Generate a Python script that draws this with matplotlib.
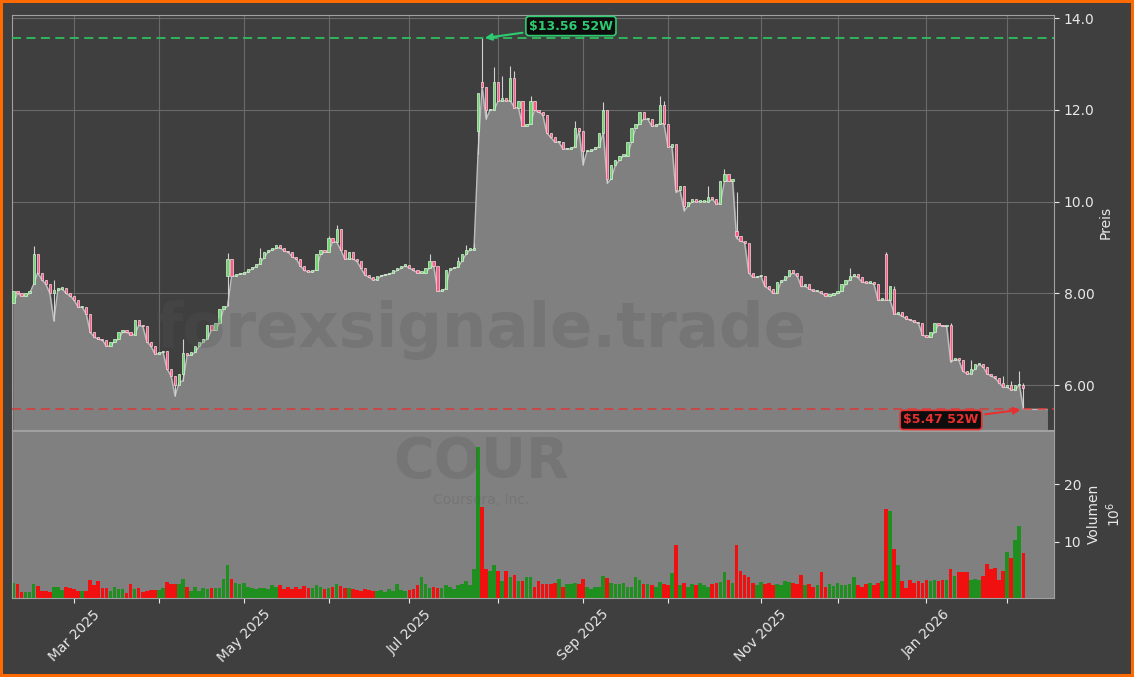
import numpy as np
import pandas as pd
import matplotlib
matplotlib.use("Agg")
import matplotlib.pyplot as plt

plt.rcParams['font.family'] = ['DejaVu Sans']

# trading calendar (NYSE holidays inside the window)
start_day = "2025-02-07"
holidays = ["2025-02-17", "2025-04-18", "2025-05-26", "2025-06-19", "2025-07-04",
            "2025-09-01", "2025-11-27", "2025-12-25", "2026-01-01", "2026-01-19"]

close = [
    8.05, 8.00, 7.95, 8.00, 8.05, 8.85, 8.45, 8.30, 8.20, 8.00,
    8.08, 8.10, 8.12, 8.00, 7.95, 7.85, 7.70, 7.70, 7.55, 7.15,
    7.05, 7.00, 6.98, 6.85, 6.95, 7.00, 7.15, 7.20, 7.15, 7.10,
    7.42, 7.30, 7.28, 6.95, 6.85, 6.68, 6.72, 6.75, 6.35, 6.20,
    6.00, 6.25, 6.70, 6.65, 6.72, 6.85, 6.95, 7.00, 7.30, 7.20,
    7.35, 7.66, 7.72, 8.75, 8.38, 8.42, 8.43, 8.47, 8.53, 8.58,
    8.65, 8.78, 8.90, 8.95, 8.98, 9.05, 9.00, 8.92, 8.90, 8.80,
    8.75, 8.60, 8.50, 8.47, 8.52, 8.85, 8.95, 8.90, 9.20, 9.12,
    9.40, 8.95, 8.75, 8.90, 8.75, 8.70, 8.55, 8.40, 8.35, 8.30,
    8.38, 8.40, 8.42, 8.45, 8.50, 8.55, 8.60, 8.62, 8.55, 8.50,
    8.45, 8.45, 8.55, 8.70, 8.60, 8.05, 8.10, 8.50, 8.55, 8.57,
    8.70, 8.85, 8.95, 8.95, 9.00, 12.38, 12.50, 12.00, 12.00, 12.60,
    12.20, 12.25, 12.20, 12.70, 12.05, 12.20, 11.65, 11.70, 12.20, 12.00,
    11.95, 11.90, 11.50, 11.40, 11.30, 11.30, 11.15, 11.15, 11.20, 11.60,
    11.55, 11.10, 11.10, 11.15, 11.20, 11.50, 12.00, 10.50, 10.80, 10.90,
    11.00, 11.00, 11.30, 11.60, 11.70, 11.95, 11.80, 11.80, 11.65, 11.70,
    12.10, 11.70, 11.20, 11.25, 10.25, 10.35, 9.90, 10.00, 10.05, 10.00,
    10.00, 10.00, 10.10, 10.05, 9.95, 10.45, 10.60, 10.45, 10.50, 9.25,
    9.15, 9.10, 8.45, 8.35, 8.38, 8.38, 8.15, 8.10, 8.00, 8.25,
    8.30, 8.38, 8.50, 8.45, 8.38, 8.15, 8.20, 8.10, 8.05, 8.05,
    8.00, 7.95, 7.97, 8.00, 8.05, 8.20, 8.30, 8.38, 8.42, 8.35,
    8.25, 8.23, 8.25, 8.20, 7.85, 7.90, 7.85, 8.15, 7.55, 7.60,
    7.50, 7.45, 7.42, 7.38, 7.35, 7.10, 7.05, 7.15, 7.35, 7.32,
    7.28, 7.28, 6.55, 6.60, 6.55, 6.30, 6.25, 6.35, 6.45, 6.45,
    6.40, 6.25, 6.20, 6.15, 6.05, 5.95, 6.00, 5.90, 6.00, 6.00,
    5.93,
]

# volume in millions of shares
volume = [
    2.9, 2.7, 1.2, 1.2, 1.2, 2.7, 2.3, 1.5, 1.5, 1.2,
    2.1, 2.1, 1.6, 2.2, 1.9, 1.7, 1.5, 1.5, 1.5, 3.3,
    2.5, 3.1, 1.9, 1.9, 1.5, 2.1, 1.8, 1.8, 1.1, 2.7,
    1.8, 1.9, 1.3, 1.5, 1.6, 1.6, 1.6, 1.9, 3.0, 2.7,
    2.7, 2.7, 3.5, 2.2, 1.5, 2.2, 1.5, 2.0, 1.7, 2.0,
    2.0, 1.9, 3.6, 5.9, 3.6, 2.8, 2.7, 2.8, 2.2, 2.0,
    1.8, 2.0, 1.9, 1.8, 2.4, 2.2, 2.4, 1.8, 2.2, 1.8,
    2.2, 1.8, 2.3, 1.9, 2.0, 2.4, 2.1, 1.8, 2.0, 2.2,
    2.6, 2.3, 1.9, 2.0, 1.7, 1.6, 1.5, 1.8, 1.6, 1.4,
    1.5, 1.6, 1.3, 1.7, 1.5, 2.6, 1.6, 1.5, 1.6, 1.8,
    2.4, 3.9, 2.6, 2.0, 2.2, 2.0, 1.9, 2.5, 2.1, 1.8,
    2.4, 2.6, 3.1, 2.4, 5.2, 26.5, 16.0, 5.3, 5.0, 5.9,
    4.9, 3.2, 4.9, 3.9, 4.2, 3.2, 3.2, 3.9, 3.9, 2.2,
    3.2, 2.6, 2.6, 2.6, 2.9, 3.5, 2.2, 2.6, 2.6, 2.9,
    2.6, 3.5, 2.1, 1.7, 2.1, 2.1, 4.1, 3.7, 2.9, 2.7,
    2.7, 2.9, 2.2, 2.2, 3.8, 3.4, 2.7, 2.7, 2.5, 2.2,
    3.0, 2.6, 2.4, 4.5, 9.5, 2.4, 2.8, 2.2, 2.6, 2.4,
    2.8, 2.5, 2.2, 2.6, 2.8, 3.0, 4.8, 3.3, 2.8, 9.5,
    5.0, 4.3, 3.8, 2.8, 2.5, 3.0, 2.6, 2.8, 2.4, 2.6,
    2.5, 3.2, 3.0, 2.9, 2.6, 4.3, 2.5, 2.7, 2.2, 2.4,
    4.8, 2.2, 2.6, 2.3, 2.8, 2.4, 2.5, 2.6, 3.8, 2.4,
    2.2, 2.6, 2.9, 2.4, 2.8, 3.2, 15.7, 15.3, 8.8, 5.9,
    3.1, 1.9, 3.4, 2.8, 3.1, 2.8, 3.3, 3.1, 3.4, 3.1,
    3.4, 3.3, 5.2, 4.0, 4.8, 4.8, 4.7, 3.3, 3.6, 3.3,
    4.0, 6.2, 5.3, 5.4, 3.4, 4.9, 8.3, 7.2, 10.3, 12.8,
    8.1,
]

# opens that gap away from the previous close (index: open)
open_gaps = {0: 7.80, 5: 8.20, 53: 8.38, 115: 11.55, 116: 12.60,
             179: 9.35, 216: 8.85, 218: 8.10, 232: 7.30}
# visible upper wicks (index: high)
high_marks = {5: 9.04, 10: 8.30, 42: 7.00, 53: 8.87, 61: 9.00, 78: 9.25, 80: 9.50,
              103: 8.85, 110: 8.80, 112: 9.05, 114: 9.10, 116: 13.56, 119: 12.93,
              121: 12.75, 123: 12.96, 124: 12.85, 128: 12.30, 139: 11.75, 146: 12.18,
              160: 12.30, 161: 12.20, 164: 11.10, 172: 10.35, 176: 10.72, 179: 10.20,
              182: 9.05, 207: 8.55, 216: 8.90, 218: 8.15, 232: 7.35, 237: 6.55,
              245: 6.20, 247: 6.10, 249: 6.30, 250: 6.05}
# lows below the candle bodies (index: low)
low_marks = {10: 7.40, 40: 5.76, 41: 6.05, 42: 6.10, 53: 7.72, 115: 11.05, 117: 11.80,
             141: 10.80, 147: 10.40, 164: 10.20, 166: 9.80, 179: 9.20, 232: 6.50,
             250: 5.47}

max_52w = 13.56
min_52w = 5.47
price_ticks = [6, 8, 10, 12, 14]
price_ticklabels = ['6.00', '8.00', '10.0', '12.0', '14.0']
vol_ticks = [10, 20]

# ---- build OHLC ----
n = len(close)
dates = pd.bdate_range(start_day, periods=n, freq="C", holidays=holidays)
x = np.arange(n)
opn = [open_gaps.get(0)] + close[:-1]
for k, v in open_gaps.items():
    opn[k] = v
opn = np.array(opn)
cls = np.array(close)
high = np.maximum(opn, cls)
low = np.minimum(opn, cls)
for k, v in high_marks.items():
    high[k] = v
for k, v in low_marks.items():
    low[k] = v
up = cls >= opn

bg = '#3f3f3f'
txt = '#e8e8e8'

fig = plt.figure(figsize=(11.34, 6.77), dpi=100)
fig.patch.set_facecolor(bg)
fig.patch.set_edgecolor('#ff6a00')
fig.patch.set_linewidth(4)

ax = fig.add_axes([0.0109, 0.3648, 0.9186, 0.6137])
axv = fig.add_axes([0.0109, 0.1174, 0.9186, 0.2459], sharex=ax)

for a in (ax, axv):
    for s in a.spines.values():
        s.set_color('#a0a0a0')
        s.set_linewidth(0.8)
    a.yaxis.tick_right()
    a.yaxis.set_label_position('right')
    a.tick_params(colors=txt, labelsize=10)
    a.set_axisbelow(True)

ax.set_facecolor(bg)
axv.set_facecolor('#808080')

# price area under the lows, carried on to the right edge
x_fill = np.append(x, 255.8)
y_fill = np.append(low, low[-1])
ax.fill_between(x_fill, y_fill, 0, color='#808080', zorder=1)
ax.plot(x_fill, y_fill, color='#bdbdbd', lw=1.0, zorder=2)

# candles
ax.vlines(x, low, high, color='#d0d0d0', lw=0.8, zorder=3)
body_h = np.maximum(np.abs(cls - opn), 0.03)
ax.bar(x[up], body_h[up], bottom=np.minimum(opn, cls)[up], width=0.55,
       color='#6fd36f', edgecolor='#d8f5d8', linewidth=0.5, zorder=4)
ax.bar(x[~up], body_h[~up], bottom=np.minimum(opn, cls)[~up], width=0.55,
       color='#ff5a87', edgecolor='#f5d8e0', linewidth=0.5, zorder=4)

# 52 week lines and labels
ax.axhline(max_52w, color='#2fbf5f', ls=(0, (5, 3)), lw=1.3, zorder=5)
ax.axhline(min_52w, color='#e03535', ls=(0, (5, 3)), lw=1.3, alpha=0.8, zorder=5)
i_max = int(np.argmax(high))
i_min = int(np.argmin(low))
ax.annotate(f"${max_52w:.2f} 52W", xy=(i_max, max_52w), xytext=(138.0, 13.83),
            color='#2ecc71', fontsize=9, fontweight='bold', ha='center', va='center',
            bbox=dict(boxstyle='round,pad=0.25', fc='#0d0d0d', ec='#2ecc71', lw=1.2),
            arrowprops=dict(arrowstyle='-|>', color='#2ecc71', lw=1.5, mutation_scale=10),
            zorder=6)
ax.annotate(f"${min_52w:.2f} 52W", xy=(i_min, min_52w), xytext=(229.6, 5.24),
            color='#e83030', fontsize=9, fontweight='bold', ha='center', va='center',
            bbox=dict(boxstyle='round,pad=0.25', fc='#0d0d0d', ec='#e83030', lw=1.2),
            arrowprops=dict(arrowstyle='-|>', color='#e83030', lw=1.5, mutation_scale=10),
            zorder=6)

ax.set_ylim(5.02, 14.08)
ax.set_yticks(price_ticks)
ax.set_yticklabels(price_ticklabels)
ax.set_ylabel('Preis', color=txt, fontsize=10, labelpad=3)
ax.grid(True, color='#6a6a6a', lw=0.8)
ax.tick_params(axis='x', length=0, labelbottom=False)

# volume
vol = np.array(volume)
axv.bar(x, vol, width=0.9, color=np.where(up, '#1f8f1f', '#f01010'), zorder=2)
axv.set_ylim(0.3, 29.3)
axv.set_yticks(vol_ticks)
axv.set_ylabel('Volumen\n$10^6$', color=txt, fontsize=10, labelpad=4)

# month ticks on first trading day, label every second month
month_pos = [i for i in range(1, n) if dates[i].month != dates[i - 1].month]
month_lab = [dates[i].strftime('%b %Y') if dates[i].month % 2 == 1 else '' for i in month_pos]
axv.set_xticks(month_pos)
axv.set_xticklabels(month_lab, rotation=45, ha='center')
ax.set_xlim(-0.27, 257.6)

# watermark
fig.text(0.424, 0.512, 'forexsignale.trade', fontsize=45, fontweight='bold',
         color='#555555', alpha=0.25, ha='center', va='center', zorder=10)
fig.text(0.424, 0.318, 'COUR', fontsize=40, fontweight='bold',
         color='#555555', alpha=0.25, ha='center', va='center', zorder=10)
fig.text(0.424, 0.262, 'Coursera, Inc.', fontsize=10,
         color='#555555', alpha=0.25, ha='center', va='center', zorder=10)

fig.savefig('out.png', dpi=100, facecolor=fig.get_facecolor(), edgecolor=fig.get_edgecolor())
